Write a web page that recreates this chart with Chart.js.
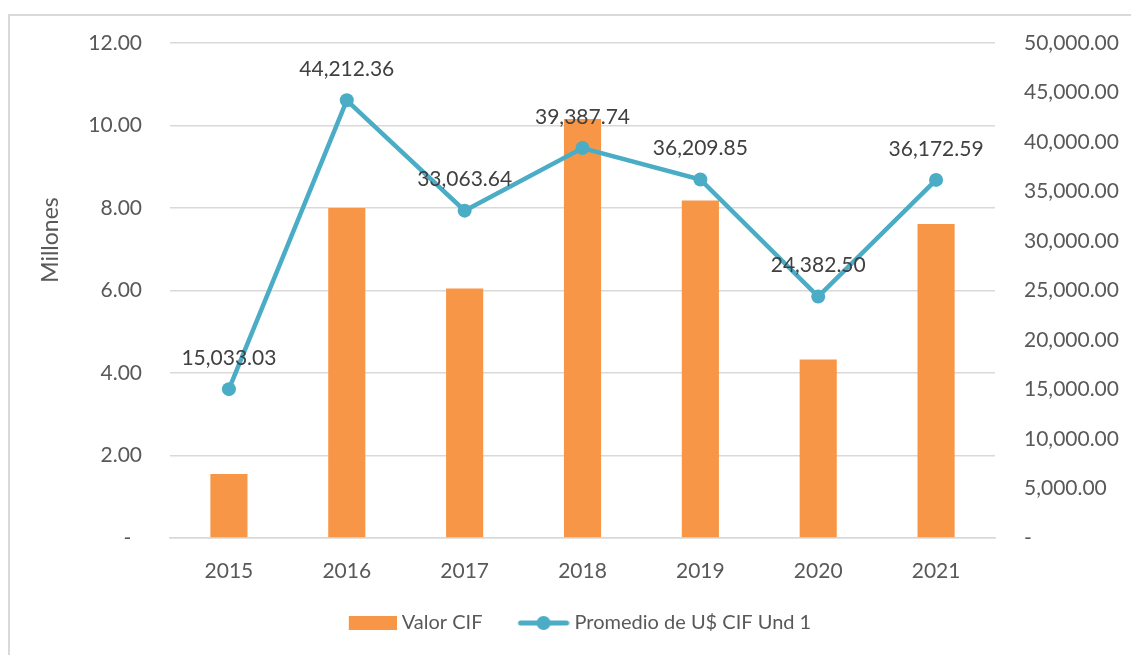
<!DOCTYPE html>
<html>
<head>
<meta charset="utf-8">
<script src="https://cdn.jsdelivr.net/npm/chart.js@4"></script>
<style>
  html, body { margin: 0; padding: 0; background: #fff; }
  #wrap { position: relative; width: 1131px; height: 655px; overflow: hidden; }
  #frame { position: absolute; left: 8px; top: 14px; width: 1140px; height: 700px; border: 2px solid #d9d9d9; box-sizing: border-box; }
  canvas { position: absolute; left: 0; top: 0; }
</style>
</head>
<body>
<div id="wrap">
  <div id="frame"></div>
  <canvas id="chart" width="1131" height="655"></canvas>
</div>
<script>
const years = ['2015', '2016', '2017', '2018', '2019', '2020', '2021'];
const valorCif = [1.55, 8.0, 6.05, 10.16, 8.18, 4.33, 7.61]; // millones
const promedioCif = [15033.03, 44212.36, 33063.64, 39387.74, 36209.85, 24382.50, 36172.59];
const leftTicks = [0, 2, 4, 6, 8, 10, 12];
const rightTicks = [0, 5000, 10000, 15000, 20000, 25000, 30000, 35000, 40000, 45000, 50000];

const FONT = 'Lato';
const ORANGE = '#F79646';
const BLUE = '#4BACC6';
const TEXT = '#595959';

function fmt(v) {
  return v.toLocaleString('en-US', { minimumFractionDigits: 2, maximumFractionDigits: 2 });
}

// legend markers: 82px wide image, drawn from box x-5 to x+77
function makeBox() {
  const c = document.createElement('canvas');
  c.width = 82; c.height = 14;
  const g = c.getContext('2d');
  g.fillStyle = ORANGE;
  g.fillRect(34, 0, 48, 14);
  return c;
}
function makeLine() {
  const c = document.createElement('canvas');
  c.width = 82; c.height = 16;
  const g = c.getContext('2d');
  g.strokeStyle = BLUE; g.lineWidth = 5; g.lineCap = 'round';
  g.beginPath(); g.moveTo(33, 8); g.lineTo(79, 8); g.stroke();
  g.fillStyle = BLUE;
  g.beginPath(); g.arc(56, 8, 7, 0, Math.PI * 2); g.fill();
  return c;
}
const legendImgs = [makeBox(), makeLine()];

const pointLabels = {
  id: 'pointLabels',
  afterDatasetsDraw(chart) {
    const meta = chart.getDatasetMeta(1);
    const ctx = chart.ctx;
    ctx.save();
    ctx.font = '21px ' + FONT;
    ctx.fillStyle = '#404040';
    ctx.textAlign = 'center';
    ctx.textBaseline = 'middle';
    meta.data.forEach((pt, i) => {
      ctx.fillText(fmt(promedioCif[i]), pt.x, pt.y - 31);
    });
    ctx.restore();
  }
};

// axis title sits above the middle of the axis, like the original
const axisTitle = {
  id: 'axisTitle',
  afterDraw(chart) {
    const ctx = chart.ctx;
    ctx.save();
    ctx.translate(51, 240);
    ctx.rotate(-Math.PI / 2);
    ctx.font = '23px ' + FONT;
    ctx.fillStyle = TEXT;
    ctx.textAlign = 'center';
    ctx.textBaseline = 'middle';
    ctx.fillText('Millones', 0, 0);
    ctx.restore();
  }
};

new Chart(document.getElementById('chart'), {
  data: {
    labels: years,
    datasets: [
      {
        type: 'bar',
        label: 'Valor CIF',
        data: valorCif,
        backgroundColor: ORANGE,
        yAxisID: 'y',
        barPercentage: 0.315,
        categoryPercentage: 1,
        order: 2
      },
      {
        type: 'line',
        label: 'Promedio de U$ CIF Und 1',
        data: promedioCif,
        borderColor: BLUE,
        backgroundColor: BLUE,
        borderWidth: 4.5,
        pointRadius: 7,
        pointHoverRadius: 7,
        pointBackgroundColor: BLUE,
        pointBorderWidth: 0,
        yAxisID: 'y1',
        tension: 0,
        order: 1
      }
    ]
  },
  options: {
    responsive: false,
    animation: false,
    layout: { padding: { top: 43, bottom: 12, left: 0, right: 0 } },
    scales: {
      x: {
        grid: { display: false },
        border: { color: '#d9d9d9', width: 1.5 },
        ticks: { color: TEXT, font: { family: FONT, size: 21 }, padding: 13 },
        afterFit(s) { s.height = 65; }
      },
      y: {
        position: 'left',
        min: 0, max: 12,
        afterBuildTicks(s) { s.ticks = leftTicks.map(v => ({ value: v })); },
        grid: { color: '#d9d9d9', lineWidth: 1.5, drawTicks: false },
        border: { display: false },
        ticks: {
          color: TEXT, font: { family: FONT, size: 21 }, padding: 28,
          callback: v => v === 0 ? '-  ' : v.toFixed(2)
        },
        afterFit(s) { s.width = 170; }
      },
      y1: {
        position: 'right',
        min: 0, max: 50000,
        afterBuildTicks(s) { s.ticks = rightTicks.map(v => ({ value: v })); },
        grid: { drawOnChartArea: false, drawTicks: false },
        border: { display: false },
        ticks: {
          color: TEXT, font: { family: FONT, size: 21 }, padding: 29,
          callback: v => v === 0 ? '-' : fmt(v)
        },
        afterFit(s) { s.width = 136; }
      }
    },
    plugins: {
      tooltip: { enabled: false },
      legend: {
        position: 'bottom',
        labels: {
          color: TEXT,
          font: { family: FONT, size: 20 },
          usePointStyle: true,
          pointStyleWidth: 72,
          boxHeight: 16,
          padding: 10,
          generateLabels(chart) {
            return chart.data.datasets.map((ds, i) => ({
              text: ds.label,
              pointStyle: legendImgs[i],
              fontColor: TEXT,
              datasetIndex: i,
              hidden: false,
              lineWidth: 0
            }));
          }
        }
      }
    }
  },
  plugins: [pointLabels, axisTitle]
});
</script>
</body>
</html>
